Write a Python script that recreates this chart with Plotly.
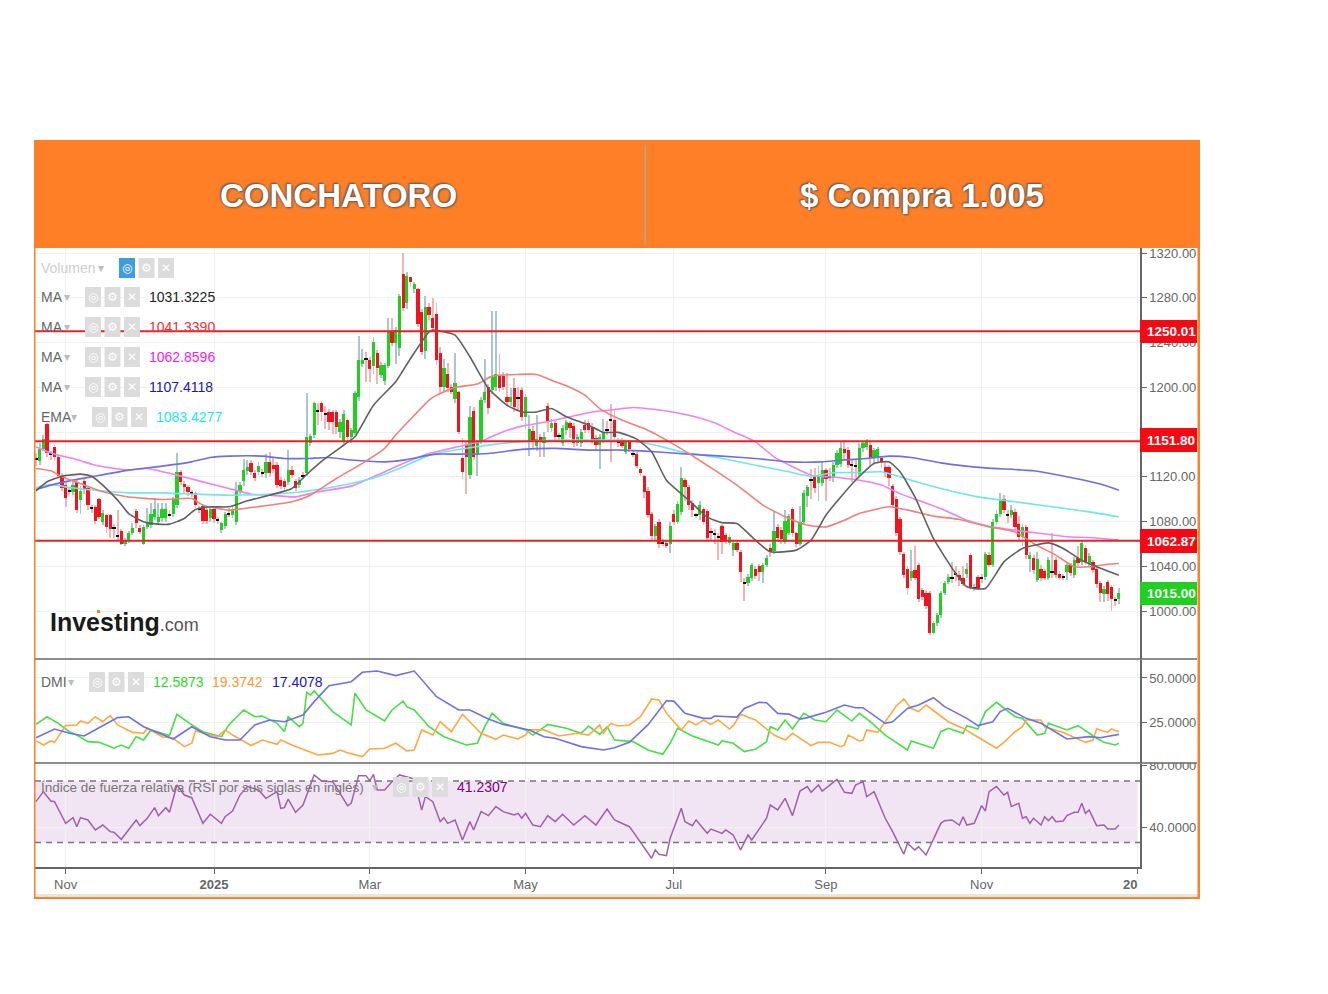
import numpy as np
import plotly.graph_objects as go

# body margin of the page takes 8px on each side
W, H = 1312, 978
OFF = 8

opens = [
    1136,1134.3,1144.5,1167,1141,1147,1138,1120.6,1112.6,1108,
    1106.6,1115.6,1099,1116.4,1109.6,1093,1093,1099.8,1079.8,1085.7,
    1085.7,1074.5,1067.5,1072,1059.8,1063.4,1070,1089.6,1074.7,1060.4,
    1075.3,1076.8,1084.3,1079.8,1082.8,1082.8,1086,1086.6,1094.7,1124.5,
    1114,1111,1106,1105.7,1091.5,1094,1090,1082.8,1091.7,1081.8,
    1072.3,1076,1087.2,1085.7,1079.8,1106.6,1116.4,1125.4,1132,1123,
    1124.5,1123.5,1123,1133.4,1130.4,1130.4,1117,1116.4,1115.5,1126,
    1116.4,1112.6,1121,1123,1150.4,1157.3,1179.3,1186,1177,1178,
    1178,1178,1160.3,1151.3,1170.7,1155.8,1159.4,1191,1220.7,1225.7,
    1224.3,1219,1230.9,1211,1205.5,1219,1250.5,1239.2,1234.7,1301.2,
    1275,1298.2,1287.5,1287.5,1267.5,1232.7,1272,1261.6,1265.4,1230.9,
    1200.5,1211.5,1200.5,1190,1195.4,1136.4,1148.3,1121.5,1179,1139.4,
    1151.3,1188.6,1200.5,1197.5,1200.5,1210,1210,1191.5,1187,1199.6,
    1191,1197.5,1173.7,1151.3,1161,1147.4,1155.8,1150.4,1183.5,1163.2,
    1167.7,1157,1150.4,1161.7,1167.7,1165.3,1149.8,1149.8,1166,1167.7,
    1164.7,1154.3,1148.3,1152.8,1162.5,1171,1170.7,1152,1152.8,1142.4,
    1151.3,1141,1140.3,1127.2,1120.6,1107.5,1087.2,1067,1079.8,1061.5,
    1061,1060.4,1087.2,1079.8,1088.7,1117.6,1111,1096.8,1086.2,1085.7,
    1091.7,1089.6,1071.2,1069.7,1066.7,1075.9,1067.9,1061,1055,1061,
    1053,1025.8,1024.7,1030,1038,1040.2,1035,1041,1056.8,1053.6,
    1075.3,1072.9,1061.9,1070,1091.7,1069.4,1060.4,1079.8,1102.7,1117.5,
    1121.5,1114.7,1114.7,1126,1120.5,1120,1130.5,1131.4,1144.5,1143.9,
    1131,1130.5,1122.4,1145.4,1146.8,1148.3,1136.4,1137.3,1136.4,1128.4,
    1128.4,1111.7,1100.6,1081.9,1050.9,1038,1030,1036.6,1041,1018.7,
    1016.3,1016.3,980,989,996.4,1016.3,1026.1,1029.6,1033.3,1032,
    1030,1033.6,1050,1021.3,1030.6,1029.6,1030.6,1050,1041,1079.8,
    1086.6,1099.8,1086.5,1085.7,1088.7,1077.7,1066.4,1075.3,1047,1047.9,
    1028.2,1038,1036,1030,1035.5,1045.5,1033.6,1031,1035,1041,
    1032.7,1047.9,1044,1056,1043.1,1044,1038,1024.7,1015.2,1026.1,
    1021.7,1010.3,1011.2,
]
closes = [
    1135,1144.5,1153.4,1141,1140,1138,1120.6,1109.6,1101.5,1107,
    1112.6,1090,1107.5,1108,1094.7,1092,1080.7,1084,1087.8,1075.3,
    1073.8,1073.5,1066.5,1060.4,1063.4,1069.4,1074,1078.3,1070.8,1075.3,
    1079.8,1087.2,1091.7,1084,1091.7,1091.7,1085,1100.6,1124.5,1115.5,
    1110.5,1106.6,1105,1094.7,1090.5,1080.4,1080.4,1091.7,1081.9,1080.8,
    1078.3,1086.6,1086.2,1090,1108,1112.6,1126,1128.4,1124.5,1119.4,
    1129.6,1122.5,1133.4,1123,1126.6,1112.6,1111.7,1111,1126,1122,
    1109.6,1117,1120,1155.8,1156.4,1185.6,1178.3,1178,1176,1169.2,
    1169.2,1164.7,1169.2,1176,1155.8,1161.7,1195,1224,1224.3,1224.7,
    1216,1240.7,1216.9,1220,1220,1250.5,1239.8,1251,1281.5,1270.5,
    1299.4,1294.4,1292.3,1256.5,1231.8,1272,1264.5,1252.6,1224.3,1200.5,
    1216.9,1199,1196,1203.5,1160.3,1124.5,1137.9,1173.7,1137.9,1151.3,
    1189,1195.4,1181.7,1208.8,1211.5,1199,1200.5,1186.5,1191.5,1182.6,
    1190,1173.7,1191.5,1162.6,1151.3,1153.4,1151.3,1155.8,1169.8,1168.3,
    1155.2,1156,1163.8,1169.2,1164,1149.8,1155.8,1160.3,1161.7,1161.7,
    1152.8,1148.3,1155.8,1160.3,1161.5,1170,1155.8,1151,1147.4,1151.3,
    1144.5,1140,1129.9,1123.6,1106.6,1085.7,1067,1075.9,1060.4,1060.5,
    1058,1075.9,1079.8,1095.3,1119.4,1110.5,1094.7,1090.2,1085.2,1094.7,
    1079.8,1065.5,1070.2,1068.7,1065.7,1061.9,1061.9,1066.4,1061,1055,
    1035,1024.8,1030.6,1041,1031.2,1035,1041,1047.9,1053,1071.7,
    1064.9,1064,1080.7,1084.9,1069.4,1059.8,1079.8,1105.7,1111,1116.5,
    1109.6,1121.5,1126,1118.5,1119.5,1130.5,1141.5,1145.4,1140.9,1130.5,
    1130,1129.5,1145.4,1149.8,1151.3,1136.4,1143.9,1144.5,1133.4,1123,
    1119.4,1094.7,1069.4,1053,1032.7,1020.8,1035.7,1030,1010.4,1012.7,
    1004.7,980,989,996.4,1016.3,1025.2,1030.6,1028.6,1032.3,1027.6,
    1024,1038,1021,1020.3,1021,1028.6,1050.6,1041,1079.8,1087.2,
    1099.8,1090.8,1085.5,1090.8,1075.3,1065.8,1075.3,1050,1050,1036.6,
    1047,1030,1030,1045.5,1034.5,1032,1030,1030,1041,1034,
    1045.5,1043.1,1061,1044,1049,1036.6,1023.8,1015.8,1020.2,1015.2,
    1010.4,1009.3,1016.3,
]
highs = [
    1141,1150,1157,1168,1143,1149,1139,1123,1115,1110,
    1116,1117,1112,1118,1111,1095,1095,1101,1090,1087,
    1087,1078,1090,1073,1065,1072,1079,1091,1077,1077,
    1092,1097,1100,1097,1097,1097,1090,1102,1141,1126,
    1116,1113,1108,1107,1094,1096,1092,1094,1094,1084,
    1080,1089,1092,1094,1115,1115,1136,1135,1135,1126,
    1133,1127,1140,1142,1137,1133,1120,1119,1144,1130,
    1118,1120,1124,1195,1158,1187,1186,1188,1183,1181,
    1180,1180,1172,1180,1173,1164,1197,1246,1234,1232,
    1227,1245,1233,1223,1222,1262,1262,1254,1283,1320,
    1303,1298,1294,1289,1270,1282,1275,1280,1275,1236,
    1225,1222,1203,1231,1197,1155,1152,1183,1182,1153,
    1191,1225,1203,1268,1268,1230,1214,1213,1199,1208,
    1200,1200,1194,1175,1165,1175,1158,1160,1186,1172,
    1170,1159,1166,1171,1170,1168,1158,1163,1171,1172,
    1168,1157,1158,1172,1170,1185,1181,1155,1155,1153,
    1153,1143,1142,1129,1122,1111,1089,1078,1082,1064,
    1063,1080,1090,1098,1129,1119,1113,1099,1088,1098,
    1093,1091,1074,1073,1070,1078,1070,1068,1063,1063,
    1055,1030,1033,1043,1040,1042,1043,1050,1060,1089,
    1078,1075,1090,1087,1093,1071,1094,1108,1113,1127,
    1128,1130,1132,1128,1128,1133,1144,1151,1153,1147,
    1135,1135,1150,1152,1154,1151,1146,1147,1139,1132,
    1131,1114,1103,1084,1053,1040,1055,1058,1043,1021,
    1019,1018,991,998,1018,1027,1033,1044,1040,1036,
    1040,1043,1052,1024,1032,1033,1053,1053,1082,1090,
    1106,1104,1090,1095,1091,1085,1078,1077,1053,1050,
    1053,1041,1038,1048,1070,1048,1036,1033,1043,1043,
    1048,1058,1063,1059,1052,1046,1040,1027,1022,1028,
    1023,1013,1021,
]
lows = [
    1130,1131,1143,1138,1135,1134,1118,1107,1093,1104,
    1104,1088,1087,1105,1090,1088,1078,1082,1077,1070,
    1065,1065,1063,1059,1058,1061,1068,1074,1069,1059,
    1073,1074,1081,1077,1080,1080,1083,1084,1092,1113,
    1106,1103,1102,1092,1088,1078,1078,1080,1079,1078,
    1070,1073,1084,1083,1077,1105,1112,1122,1122,1116,
    1122,1120,1119,1120,1123,1110,1109,1108,1113,1119,
    1107,1110,1118,1121,1148,1155,1166,1170,1163,1162,
    1158,1158,1155,1149,1150,1150,1157,1188,1218,1205,
    1205,1212,1203,1208,1202,1217,1237,1221,1228,1268,
    1270,1290,1284,1254,1229,1225,1260,1250,1220,1195,
    1197,1196,1194,1186,1158,1118,1105,1118,1135,1121,
    1149,1186,1176,1194,1197,1196,1198,1184,1183,1178,
    1180,1170,1163,1139,1145,1143,1138,1138,1160,1160,
    1153,1153,1148,1157,1155,1147,1148,1147,1159,1159,
    1150,1143,1127,1150,1157,1133,1152,1147,1146,1140,
    1142,1138,1128,1121,1101,1083,1063,1063,1056,1058,
    1056,1052,1077,1078,1086,1098,1090,1084,1083,1081,
    1077,1063,1063,1060,1046,1051,1060,1059,1049,1053,
    1026,1009,1022,1027,1029,1027,1025,1039,1048,1051,
    1062,1060,1060,1068,1066,1057,1058,1078,1093,1100,
    1106,1098,1112,1098,1116,1115,1128,1129,1135,1128,
    1115,1118,1120,1142,1144,1130,1132,1132,1128,1120,
    1112,1092,1067,1050,1030,1014,1027,1028,1008,1010,
    1002,979,979,987,994,1014,1024,1025,1027,1022,
    1022,1030,1019,1018,1019,1025,1028,1039,1039,1077,
    1084,1088,1079,1083,1072,1063,1058,1047,1035,1033,
    1026,1027,1028,1028,1030,1030,1028,1028,1028,1031,
    1030,1040,1041,1041,1040,1034,1021,1008,1008,1009,
    1000,1005,1006,
]

# moving averages, bar number and price
ma_black_x = [0,3,7,12,15,18,22,25,29,33,36,40,43,47,52,57,63,69,73,78,84,86,91,97,101,106,107,113,117,122,127,131,135,139,143,149,153,157,162,166,170,176,181,185,189,194,198,205,209,213,217,221,226,230,233,237,242,248,251,256,261,266,273,277,282,286,292]
ma_black_y = [1107.5,1115.6,1120.6,1122.4,1120.6,1112.6,1099.2,1087.2,1079.8,1077.7,1077.7,1082.8,1090.8,1093.2,1093.2,1098.6,1103.6,1109.6,1122.1,1136.4,1150.7,1155.8,1184,1205,1225.8,1249.6,1251.1,1246.7,1227.3,1199,1184,1178,1178,1181,1173.7,1166.2,1159.7,1159.7,1153.7,1142.4,1117,1099.2,1084,1079,1078.3,1063.4,1053,1054.5,1063.4,1085.7,1102,1117,1132,1133.4,1124.5,1102,1064.9,1033.6,1021.7,1020.2,1044,1056,1061,1056,1045.5,1039.6,1032]
ma_red_x = [0,4,7,13,18,25,34,42,45,52,56,61,69,74,81,88,94,97,102,106,108,113,119,123,130,135,140,143,148,152,158,165,170,176,183,189,196,203,208,213,218,222,230,236,242,249,257,264,269,275,280,284,287,292]
ma_red_y = [1127.5,1125.4,1120,1112.6,1106.6,1102,1099.8,1100.6,1094.7,1090.2,1091.7,1093.8,1097.7,1103.6,1118.5,1132,1145.4,1157.3,1175,1188.6,1193,1199.9,1202.9,1210,1211.5,1211.5,1205,1201.4,1193,1181,1170.7,1161.7,1152.8,1140.9,1126,1112.6,1094.7,1082.8,1076.8,1075.3,1081.3,1087.2,1093.2,1089.6,1084.9,1081.9,1075.3,1070.8,1060.4,1050,1039.6,1039.6,1041,1042.5]
ma_magenta_x = [0,3,6,10,16,25,30,38,45,52,58,63,70,76,85,93,99,106,108,113,120,126,131,138,144,150,156,161,167,176,183,188,194,199,205,209,211,216,222,228,233,239,245,251,257,264,271,278,284,292]
ma_magenta_y = [1146.8,1142.4,1139.4,1136.4,1130.4,1126,1127.5,1121.5,1115.5,1109.6,1104.5,1103.6,1102.1,1106.6,1111.7,1123,1132,1140.9,1142.4,1146.3,1151.9,1160.3,1165.3,1169.2,1173.7,1178,1180.2,1182,1180.2,1175.1,1168.3,1160.3,1151.3,1137.9,1127.5,1121.5,1120.6,1119.4,1117,1112.6,1105,1097.7,1090.2,1081.3,1075.9,1072.3,1069.4,1066.4,1065.8,1063.4]
ma_blue_x = [0,4,9,15,25,34,42,47,52,61,67,73,79,85,94,99,106,108,114,122,131,140,149,158,167,176,185,194,203,212,217,224,230,236,244,256,269,278,287,292]
ma_blue_y = [1108.7,1112.6,1116.4,1120,1126,1129.6,1133.4,1137.3,1138.5,1138.5,1136.4,1136.4,1137.3,1135,1133.4,1134.9,1139.4,1140.3,1140.3,1140.9,1144.5,1145.4,1143.9,1143.9,1142.4,1140.3,1138.5,1136.4,1133.4,1133.4,1134.9,1136.4,1138.5,1137.3,1132.5,1128,1125.4,1120,1113.5,1108.1]
ema_x = [0,4,9,16,25,34,43,52,61,70,76,85,92,99,106,108,114,122,131,140,149,158,165,174,185,194,203,209,215,221,228,233,239,244,254,264,274,284,292]
ema_y = [1110.5,1113.2,1110.5,1108,1105.7,1105.7,1104.5,1103.6,1104.2,1106,1108.7,1114,1120,1129,1139.4,1140.9,1144.5,1148.3,1151.3,1152.8,1152.8,1152.8,1149.8,1142.4,1136.4,1130.4,1124.5,1120.6,1123.6,1123.9,1124.5,1120,1114,1109.6,1102.1,1097.7,1093.2,1088.7,1084.3]

# DMI panel
dmi_green_x = [0,3,6,9,11,14,17,21,23,25,27,29,31,36,38,42,45,50,52,56,59,61,65,67,68,71,72,73,74,75,80,85,86,89,94,96,99,100,102,106,110,116,119,121,123,126,132,134,138,143,147,149,152,154,156,160,161,165,169,171,173,177,184,185,188,191,194,197,198,200,202,204,207,210,213,216,220,222,225,229,235,236,242,244,246,250,251,254,256,259,264,266,270,272,273,278,281,286,288,291,292]
dmi_green_y = [23.9,28.2,24.5,19.8,17.9,14.2,13.8,10.5,12.3,10.5,17,15.1,20.8,17.6,29.6,23.6,19.8,17,23.6,32,28.2,28.6,24.5,19.8,28.2,22.6,24.5,41.9,40.4,42.7,31.1,23.6,41.4,32,25.8,32,37,33.9,32,22.6,17,12.3,13.3,22.6,30.1,24.5,20.8,17.9,23.9,21.7,18.9,23,18.3,22.6,15.1,14.2,14.2,9.5,7.1,13.3,21.7,17.4,12.3,14.6,13.3,8.6,9.9,14.2,22.6,20.8,26.4,21.3,30.1,26.4,25.4,32,25.8,30.1,25.4,17.9,9.5,14.6,10.5,19.8,21.7,18.9,23.2,21.3,31.1,36.3,28.2,27.3,17.9,18.9,24.5,20.8,23.2,16.1,13.8,12.3,13.3]
dmi_orange_x = [0,2,4,5,8,11,12,14,16,18,20,22,26,29,30,34,37,40,42,43,47,49,51,53,58,61,65,66,69,73,76,80,82,84,88,90,94,97,100,102,104,107,109,112,115,120,124,126,130,132,133,137,141,146,149,152,153,155,157,160,163,166,168,170,174,176,178,180,182,184,187,188,190,194,199,202,204,209,211,214,217,218,219,222,223,224,227,232,234,236,238,240,246,250,259,261,264,266,267,271,272,277,283,285,286,289,290,292]
dmi_orange_y = [14.8,12.3,14.6,13.8,23.2,23.6,25.8,24.5,28.2,25.4,28.8,23.6,19.4,18.9,21.7,17,16.1,11.4,13.3,20.2,17.9,17,20.8,17.9,12,15.1,12.7,15.1,12.3,9,6.7,7.6,9.5,8,5.8,10.1,10.5,13.3,9,9.5,20.8,17.9,25.4,19.8,29.6,18.9,15.5,17.9,15.7,17.9,20.8,20.8,17.4,18.9,17.9,23.6,18.9,24.5,23,23.6,28.2,38.2,37.6,30.1,20.8,25.8,23.6,26.4,23.9,26.4,21.3,23.2,29.6,26.4,17.9,15.1,18.9,12,13.8,13.8,11.4,12.3,17.9,14.6,15.1,20.8,19.4,34.4,38.2,32.9,31.1,34.8,25.4,21.7,10.5,13.8,19.8,22.6,26.4,26.4,22.6,19.4,13.8,15.1,21.3,19.4,21.3,19.8]
dmi_blue_x = [0,5,9,13,17,22,25,29,37,42,47,51,55,59,63,67,72,75,79,85,88,92,97,102,108,114,117,122,126,133,137,140,147,153,156,160,165,170,172,175,180,182,183,189,191,195,197,200,203,206,208,213,218,221,223,229,231,235,238,242,245,251,254,258,260,262,267,271,278,284,287,292]
dmi_blue_y = [16.4,21.3,18.9,17.4,22,27.7,28.2,22.6,15.7,22.6,17,15.1,15.1,23.6,26.4,25.4,29.2,36.7,45.7,47.9,53.2,53.9,51.3,53.9,39.5,32,32,26.9,23.9,20.8,17,16.1,11.4,9.5,10.8,13.8,23.6,37.2,37,30.1,27.3,27.3,28.6,28,32.9,36.3,36.1,30.1,29.7,26.9,27.7,30.7,34.8,33.3,33.3,24.5,25.4,32.9,34.8,38.9,33.9,27.3,23.2,25.4,31.1,32.9,27.3,24.5,15.7,17,16.4,18.3]

# RSI panel
rsi_x = [0,2,4,5,8,10,11,12,14,16,18,20,21,23,27,28,30,32,33,35,36,38,40,42,45,47,50,51,53,55,57,60,62,65,66,67,68,70,72,75,77,80,82,84,85,87,89,90,91,92,94,96,98,100,102,103,104,105,107,109,110,111,113,115,117,118,120,122,124,126,129,130,131,132,134,136,138,140,142,145,148,151,154,156,160,161,166,167,168,170,171,172,174,175,177,178,181,182,185,186,188,190,192,193,197,198,200,202,204,206,208,209,211,212,216,218,220,221,223,224,226,229,231,234,235,237,238,240,244,245,247,249,250,251,253,255,256,257,259,261,262,263,265,266,267,268,269,271,272,273,274,275,277,278,280,281,282,283,284,286,288,289,291,292]
rsi_y = [56.5,63,56.9,56.5,42.4,46.1,40.2,46.1,44.6,38.1,41.3,37,36.6,32,44.6,40.9,45.7,52.6,47.4,52.6,49.6,67.3,60.8,59.1,42.4,48.3,42.4,46.7,50.4,60.8,66.3,64.1,58.7,63,52.2,52.6,58.2,49.6,54.3,73.9,70,69.5,61.9,53.9,55.4,73.4,73.4,70,74.3,64.1,64.1,69.5,73.9,72.8,71.3,60.8,51.1,59.8,56.5,43.5,46.1,42.4,44.6,31.6,43.5,38.1,50,47.4,53.3,50,47.8,48.9,45.7,48.9,41.3,40.2,47.4,43.5,48.3,41.3,47.4,41.3,51.7,44.6,40.2,37,19.7,25.1,22.3,21.4,32.7,39.2,52.2,43.5,40.9,44.6,35.9,38.7,35.9,38.1,34.8,25.1,34.8,31.6,45.7,54.3,51.1,58.7,47.4,63.4,66.3,62.6,67.3,63.4,71,62.6,61.9,67.3,69.5,59.8,63,45.7,37,22.3,29.4,25.1,27.2,21.8,42.4,44.1,44.6,41.3,46.7,41.3,42.4,53.9,50.4,63,66.3,60.8,62.6,53.3,55.4,45.7,46.7,42.4,45.7,41.3,46.7,44.1,46.7,43.5,43.9,47.4,49.6,49.6,55.4,48.9,51.1,40.9,41.3,38.7,38.7,41.3]

price_ticks = [1320, 1280, 1240, 1200, 1160, 1120, 1080, 1040, 1000]
dmi_ticks = [50, 25]
rsi_ticks = [80, 40]
month_ticks = [8, 48, 90, 132, 172, 213, 255, 297]
month_labels = ["Nov", "<b>2025</b>", "Mar", "May", "Jul", "Sep", "Nov", "<b>2026</b>"]
level_values = [1250.01, 1151.80, 1062.87]
last_price = 1015.00
rsi_bands = [70, 30]

ma_labels = ["MA", "MA", "MA", "MA", "EMA"]
ma_values = ["1031.3225", "1041.3390", "1062.8596", "1107.4118", "1083.4277"]
ma_colors = ["#222222", "#f03030", "#ee22ee", "#1515cc", "#22e8ee"]
dmi_values = ["12.5873", "19.3742", "17.4078"]
dmi_colors = ["#22dd22", "#ff9a2a", "#1515cc"]

FONT = "Liberation Sans"
RED = "#f0141e"
GREEN = "#1fd01f"
ORANGE = "#ff7f27"
AXIS = "#666666"


def px(x):
    return (x - OFF) / W


def py(y):
    return 1 - (y - OFF) / H


def box(x0, y0, x1, y1, color, layer="above"):
    return dict(type="rect", xref="paper", yref="paper", x0=px(x0), x1=px(x1), y0=py(y0), y1=py(y1),
                fillcolor=color, line_width=0, layer=layer)


def label(x, y, text, size=14, color=AXIS, anchor="left", family=FONT, **kw):
    # annotations keep a small pad round the text
    if anchor == "left":
        x -= 2
    return dict(xref="paper", yref="paper", x=px(x), y=py(y), text=text, showarrow=False,
                xanchor=anchor, yanchor="middle", font=dict(size=size, color=color, family=family, **kw))


bars = np.arange(len(opens))
o, h, l, c = map(np.array, (opens, highs, lows, closes))
body_colors = ["#111111" if abs(a - b) <= 1 else (GREEN if b > a else RED) for a, b in zip(o, c)]
wick_colors = ["#f4b4b4" if b < a else "#aac6d0" for a, b in zip(o, c)]

fig = go.Figure()
fig.add_trace(go.Bar(x=bars, y=h - l, base=l, width=0.24, marker=dict(color=wick_colors, line_width=0)))
fig.add_trace(go.Bar(x=bars, y=c - o, base=o, width=0.88, marker=dict(color=body_colors, line_width=0)))

for xs, ys, col in [(ma_magenta_x, ma_magenta_y, "#ee82ee"), (ema_x, ema_y, "#6ee6ee"),
                    (ma_blue_x, ma_blue_y, "#6e6ee6"), (ma_red_x, ma_red_y, "#f0807a"),
                    (ma_black_x, ma_black_y, "#606060")]:
    fig.add_trace(go.Scatter(x=xs, y=ys, mode="lines", line=dict(color=col, width=1.6, shape="spline", smoothing=0.5)))

for xs, ys, col in [(dmi_green_x, dmi_green_y, "#44e044"), (dmi_orange_x, dmi_orange_y, "#ffa840"),
                    (dmi_blue_x, dmi_blue_y, "#7070e8")]:
    fig.add_trace(go.Scatter(x=xs, y=ys, mode="lines", line=dict(color=col, width=1.6), yaxis="y2"))

fig.add_trace(go.Scatter(x=rsi_x, y=rsi_y, mode="lines", line=dict(color="#a060b0", width=1.5), yaxis="y3"))

x_lo, x_hi = -0.27, 297.7
shapes = [
    dict(type="rect", xref="x", yref="y3", x0=x_lo, x1=x_hi - 0.5, y0=rsi_bands[1], y1=rsi_bands[0],
         fillcolor="#f1e4f3", line_width=0, layer="below"),
]
for b in rsi_bands:
    shapes.append(dict(type="line", xref="x", yref="y3", x0=x_lo, x1=x_hi, y0=b, y1=b,
                       line=dict(color="#777777", width=1.5, dash="6px,5px")))
for v in level_values:
    shapes.append(dict(type="line", xref="x", yref="y", x0=x_lo, x1=x_hi, y0=v, y1=v,
                       line=dict(color="#e8202a", width=2), layer="above"))

# clip the labels the way the panels cut them off
shapes += [
    box(1142, 748, 1197, 763, "white"),
    box(1138, 873, 1197, 893, "white"),
    box(35, 894, 1198, 897, "#e6e6e6"),
]
# panel rules
for y0, x1 in [(659, 1197), (763, 1197)]:
    shapes.append(box(35, y0 - 0.8, x1, y0 + 0.8, AXIS))
# header
shapes += [
    box(34, 140, 1200, 248, ORANGE),
    box(644.5, 145, 646, 245, "#a8a8a8"),
    box(34, 248, 35.5, 898, ORANGE),
    box(1197.5, 248, 1200, 898, ORANGE),
    box(34, 897, 1200, 899, ORANGE),
]
# price badges
annotations = []
for v, y0, y1 in [(level_values[0], 320, 343), (level_values[1], 428, 452), (level_values[2], 529, 553)]:
    shapes.append(box(1140, y0, 1197, y1, "#f50a14"))
    annotations.append(label(1147, (y0 + y1) / 2, f"<b>{v:.2f}</b>", size=13.5, color="white"))
shapes.append(box(1140, 582, 1197, 605, "#1fd01f"))
annotations.append(label(1147, 593.5, f"<b>{last_price:.2f}</b>", size=13.5, color="white"))

annotations += [
    label(338.5, 196, "<b>CONCHATORO</b>", size=33, color="white", anchor="center",
          shadow="1px 1px 2px #555, -1px -1px 2px #555"),
    label(921.5, 196, "<b>$ Compra 1.005</b>", size=33, color="white", anchor="center",
          shadow="1px 1px 2px #555, -1px -1px 2px #555"),
]


def icons(x, y, first="#dcdcdc"):
    for i, glyph in enumerate(["◎", "⚙", "✕"]):
        x0 = x + i * 19.5
        shapes.append(box(x0, y - 10, x0 + 16, y + 10, first if i == 0 else "#dcdcdc"))
        annotations.append(label(x0 + 8, y, glyph, size=12, color="white", anchor="center", family="DejaVu Sans"))


# legend of the price panel
annotations.append(label(41, 268, "Volumen", color="#cfcfcf"))
annotations.append(label(98, 268, "▾", size=12, color="#bbbbbb", family="DejaVu Sans"))
icons(119, 268, first="#3c9ee0")
for i, (name, value, col) in enumerate(zip(ma_labels, ma_values, ma_colors)):
    y = 297 + i * 30
    is_ema = name == "EMA"
    annotations.append(label(41, y, name))
    annotations.append(label(71 if is_ema else 64, y, "▾", size=12, color="#bbbbbb", family="DejaVu Sans"))
    icons(92 if is_ema else 85, y)
    annotations.append(label(156 if is_ema else 149, y, value, color=col))

# legend of the DMI panel
annotations.append(label(41, 682, "DMI"))
annotations.append(label(68, 682, "▾", size=12, color="#bbbbbb", family="DejaVu Sans"))
icons(89, 682)
for x, value, col in zip([153, 212, 272], dmi_values, dmi_colors):
    annotations.append(label(x, 682, value, color=col))

# legend of the RSI panel
annotations.append(label(41, 787, "Índice de fuerza relativa (RSI por sus siglas en inglés)", size=13.5, color="#777777"))
annotations.append(label(372, 787, "▾", size=12, color="#bbbbbb", family="DejaVu Sans"))
icons(393, 787)
annotations.append(label(457, 787, "41.2307", color="#800080"))

# logo
annotations.append(label(50, 622, "<b>Investing</b><span style='font-size:18px;color:#555555'>.com</span>",
                         size=25, color="#1a1a1a"))
shapes.append(box(97, 610, 100, 613, ORANGE))

x_dom = [px(35), px(1140)]
tick_font = dict(size=13, color=AXIS, family=FONT)
axis_common = dict(side="right", anchor="x", showline=True, linecolor=AXIS, linewidth=1.5, ticks="outside",
                   ticklen=5, tickcolor=AXIS, tickfont=tick_font, gridcolor="#f1f1f1", gridwidth=1, zeroline=False,
                   automargin=False)

fig.update_layout(
    width=W,
    height=H,
    autosize=False,
    margin=dict(l=0, r=0, t=0, b=0),
    paper_bgcolor="white",
    plot_bgcolor="white",
    showlegend=False,
    barmode="overlay",
    bargap=0,
    font=dict(family=FONT),
    xaxis=dict(domain=x_dom, range=[x_lo, x_hi], anchor="y3", tickmode="array", tickvals=month_ticks,
               ticktext=month_labels, ticks="outside", ticklen=5, tickcolor=AXIS, tickfont=tick_font,
               showline=True, linecolor=AXIS, linewidth=1.5, gridcolor="#f1f1f1", zeroline=False, automargin=False),
    yaxis=dict(domain=[py(659), py(248)], range=[957.2, 1324.5], tickmode="array", tickvals=price_ticks,
               tickformat=".2f", **axis_common),
    yaxis2=dict(domain=[py(763), py(660)], range=[2.2, 60.1], tickmode="array", tickvals=dmi_ticks,
                tickformat=".4f", **axis_common),
    yaxis3=dict(domain=[py(867), py(764)], range=[14, 81], tickmode="array", tickvals=rsi_ticks,
                tickformat=".4f", **axis_common),
    shapes=shapes,
    annotations=annotations,
)

fig.write_html("out.html")
